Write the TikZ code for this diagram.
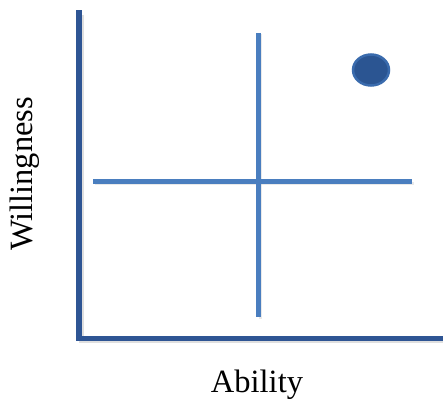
\documentclass[tikz,border=0pt]{standalone}
\usepackage{fontspec}
\setmainfont{Liberation Serif}
\usetikzlibrary{shapes.geometric}
\definecolor{axisblue}{HTML}{2E5594}
\definecolor{crossblue}{HTML}{4A7EBF}
\definecolor{dotfill}{HTML}{2B5592}
\definecolor{dotedge}{HTML}{3A6BAD}
\tikzset{
  axisline/.style={draw=axisblue, line width=5.5pt},
  crossline/.style={draw=crossblue, line width=4.5pt},
  shadowline/.style={draw=black!25, opacity=0.5, line width=5pt},
  lbl/.style={font=\fontsize{32.5}{32.5}\selectfont, inner sep=0pt}
}
\begin{document}
\begin{tikzpicture}[x=1pt,y=-1pt]
\useasboundingbox (0,0) rectangle (443,403);
% coordinates
\coordinate (ytop) at (79,13);
\coordinate (origin) at (79,338.5);
\coordinate (xend) at (443,338.5);
\coordinate (hl) at (93,181.5);
\coordinate (hr) at (412,181.5);
\coordinate (vt) at (258.5,33);
\coordinate (vb) at (258.5,317);
% shadows
\draw[shadowline] ([shift={(2,2)}]ytop) -- ([shift={(2,2)}]origin) -- ([shift={(2,2)}]xend);
\draw[shadowline, line width=3.5pt, opacity=0.35] ([shift={(1.5,2)}]hl) -- ([shift={(1.5,2)}]hr);
\draw[shadowline, line width=3.5pt, opacity=0.35] ([shift={(2,1.5)}]vt) -- ([shift={(2,1.5)}]vb);
% cross
\draw[crossline] (hl) -- (hr);
\draw[crossline] (vt) -- (vb);
% axes
\draw[axisline, line cap=rect] (ytop) -- (origin) -- (xend);
% dot
\node[ellipse, draw=dotedge, line width=2.5pt, fill=dotfill, minimum width=36pt, minimum height=31pt, inner sep=0pt] (dot) at (371,70) {};
% labels
\node[lbl, rotate=90] (wlabel) at (25,174) {Willingness};
\node[lbl] (alabel) at (257,385) {Ability};
\end{tikzpicture}
\end{document}
